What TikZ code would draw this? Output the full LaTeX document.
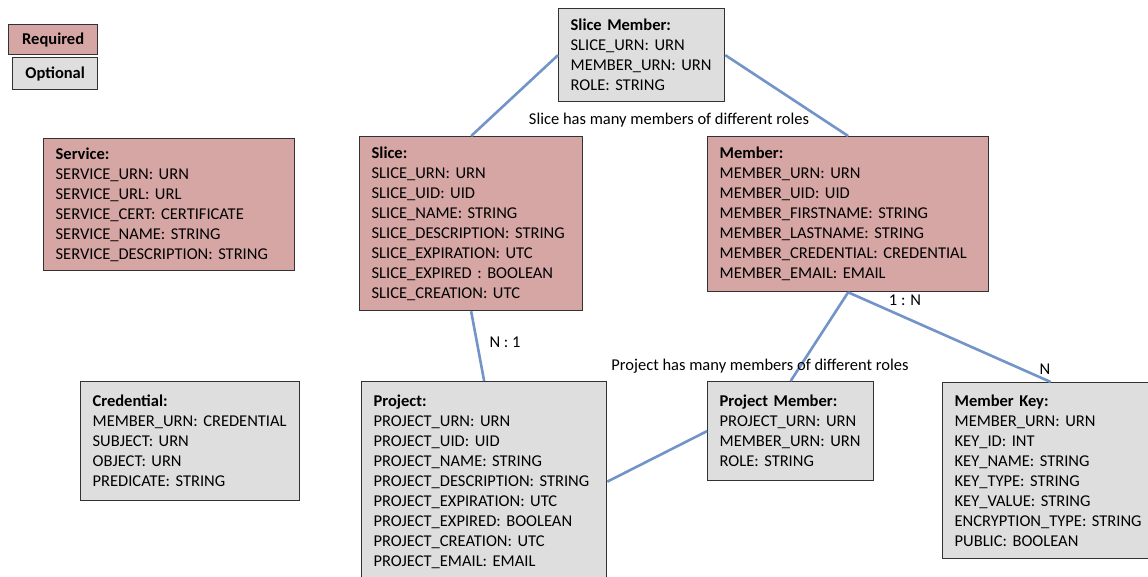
\documentclass[tikz,border=0pt]{standalone}
\usepackage{fontspec}
\setmainfont{Carlito}
\definecolor{req}{RGB}{213,166,164}
\definecolor{opt}{RGB}{222,222,222}
\definecolor{edge}{RGB}{50,50,50}
\definecolor{link}{RGB}{114,148,200}
\tikzset{
  entity/.style={draw=edge, line width=1.3pt, anchor=north west, align=left,
    inner xsep=12pt, inner ysep=0pt,
    font={\fontsize{16.5pt}{20pt}\selectfont}},
  reqbox/.style={entity, fill=req},
  optbox/.style={entity, fill=opt},
  legend/.style={draw=edge, line width=1.3pt, anchor=north west, inner sep=0pt,
    font={\fontsize{16.5pt}{20pt}\selectfont\bfseries}},
  link/.style={draw=link, line width=2.6pt},
  lbl/.style={font={\fontsize{16.5pt}{18pt}\selectfont}, inner sep=0pt},
}
\begin{document}
\begin{tikzpicture}[x=1pt, y=-1pt]
\clip (0,0) rectangle (1148,576);
\fill[white] (0,0) rectangle (1148,576);

\node[legend, fill=req, minimum width=89pt, minimum height=30pt] (lreq) at (8,24) {Required};
\node[legend, fill=opt, minimum width=85pt, minimum height=32pt] (lopt) at (12,57) {Optional};

\node[optbox, minimum width=166pt, minimum height=93pt, text width=142pt] (sm) at (558,8)
{\textbf{Slice Member:}\\SLICE\_URN: URN\\MEMBER\_URN: URN\\ROLE: STRING};

\node[reqbox, minimum width=251pt, minimum height=132pt, text width=227pt] (service) at (43,138)
{\textbf{Service:}\\SERVICE\_URN: URN\\SERVICE\_URL: URL\\SERVICE\_CERT: CERTIFICATE\\SERVICE\_NAME: STRING\\SERVICE\_DESCRIPTION: STRING};

\node[reqbox, minimum width=223pt, minimum height=174pt, text width=199pt] (slice) at (359,136)
{\textbf{Slice:}\\SLICE\_URN: URN\\SLICE\_UID: UID\\SLICE\_NAME: STRING\\SLICE\_DESCRIPTION: STRING\\SLICE\_EXPIRATION: UTC\\SLICE\_EXPIRED : BOOLEAN\\SLICE\_CREATION: UTC};

\node[reqbox, minimum width=281pt, minimum height=155pt, text width=257pt] (member) at (707,136)
{\textbf{Member:}\\MEMBER\_URN: URN\\MEMBER\_UID: UID\\MEMBER\_FIRSTNAME: STRING\\MEMBER\_LASTNAME: STRING\\MEMBER\_CREDENTIAL: CREDENTIAL\\MEMBER\_EMAIL: EMAIL};

\node[optbox, minimum width=219pt, minimum height=119pt, text width=195pt] (cred) at (80,381)
{\textbf{Credential:}\\MEMBER\_URN: CREDENTIAL\\SUBJECT: URN\\OBJECT: URN\\PREDICATE: STRING};

\node[optbox, minimum width=245pt, minimum height=200pt, text width=221pt] (project) at (361,381)
{\textbf{Project:}\\PROJECT\_URN: URN\\PROJECT\_UID: UID\\PROJECT\_NAME: STRING\\PROJECT\_DESCRIPTION: STRING\\PROJECT\_EXPIRATION: UTC\\PROJECT\_EXPIRED: BOOLEAN\\PROJECT\_CREATION: UTC\\PROJECT\_EMAIL: EMAIL};

\node[optbox, minimum width=166pt, minimum height=99pt, text width=142pt] (pm) at (707,381)
{\textbf{Project Member:}\\PROJECT\_URN: URN\\MEMBER\_URN: URN\\ROLE: STRING};

\node[optbox, minimum width=216pt, minimum height=176pt, text width=192pt] (mkey) at (942,382)
{\textbf{Member Key:}\\MEMBER\_URN: URN\\KEY\_ID: INT\\KEY\_NAME: STRING\\KEY\_TYPE: STRING\\KEY\_VALUE: STRING\\ENCRYPTION\_TYPE: STRING\\PUBLIC: BOOLEAN};

\draw[link] (sm.west) -- (slice.north);
\draw[link] (sm.east) -- (member.north);
\draw[link] (slice.south) -- (project.north);
\draw[link] (member.south) -- (pm.north);
\draw[link] (member.south) -- (mkey.north);
\draw[link] (project.east) -- (pm.west);

\node[lbl] (l1) at (669,120) {Slice has many members of different roles};
\node[lbl] (l2) at (505,342) {N : 1};
\node[lbl] (l3) at (760,366) {Project has many members of different roles};
\node[lbl] (l4) at (905,300) {1 : N};
\node[lbl] (l5) at (1045,369) {N};
\end{tikzpicture}
\end{document}
